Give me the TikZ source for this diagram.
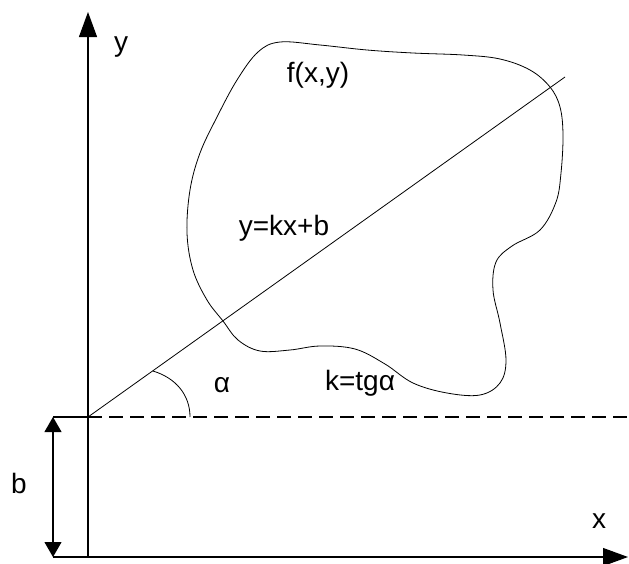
\documentclass[tikz,border=0pt]{standalone}
\usepackage{fontspec}
\setmainfont{Liberation Sans}
\usetikzlibrary{arrows.meta}
\begin{document}
\begin{tikzpicture}[x=1pt,y=-1pt,
  lbl/.style={inner sep=0pt,font=\fontsize{28}{32}\selectfont},
  axisline/.style={line width=1.1pt},
  thin/.style={line width=0.8pt},
  axtip/.style={-{Triangle[length=25pt,width=18pt]}},
  dimtip/.style={{Triangle[length=15pt,width=17pt]}-{Triangle[length=15pt,width=17pt]}},
  dashline/.style={line width=1.1pt,dash pattern=on 14pt off 7pt}]
\useasboundingbox (0,0) rectangle (629,563);
% coordinates
\coordinate (O) at (88,417);
\coordinate (Obot) at (88,557);
\coordinate (ytop) at (88,12);
\coordinate (xleft) at (53,557);
\coordinate (xright) at (628,557);
\coordinate (bt) at (53,417);
\coordinate (bb) at (53,557);
\coordinate (dashend) at (629,417);
\coordinate (lineend) at (565,77);
\coordinate (arcA) at (153,371);
\coordinate (arcB) at (190,417);
% axes
\draw[axisline,axtip] (Obot) -- (ytop);
\draw[axisline,axtip] (xleft) -- (xright);
% b dimension
\draw[axisline] (bt) -- (O);
\draw[axisline,dimtip] (bt) -- (bb);
% dashed horizontal
\draw[dashline] (O) -- (dashend);
% line y=kx+b
\draw[thin] (O) -- (lineend);
% angle
\draw[thin] (arcA) .. controls (176,378) and (190,395) .. (arcB);
% blob
\draw[thin] plot[smooth cycle,tension=0.6] coordinates {
  (280,42) (320,45) (367,50) (413,53) (463,55) (500,59) (530,70) (550,87)
  (560,107) (563,135) (561,173) (556,202) (540,230) (512,246) (496,262)
  (493,290) (500,323) (506,360) (500,383) (480,395) (447,393) (413,383)
  (385,364) (355,349) (320,346) (290,350) (260,351) (238,340) (223,321)
  (207,300) (193,270) (187,233) (190,190) (200,153) (217,117) (237,80)
  (258,52)};
% labels
\node[lbl] (ylab) at (121,47) {y};
\node[lbl] (xlab) at (599,521) {x};
\node[lbl] (blab) at (19,483) {b};
\node[lbl] (flab) at (318,75) {f(x,y)};
\node[lbl] (eqlab) at (284,228) {y=kx+b};
\node[lbl] (alab) at (222,385) {α};
\node[lbl] (klab) at (360,383) {k=tgα};
\end{tikzpicture}
\end{document}
